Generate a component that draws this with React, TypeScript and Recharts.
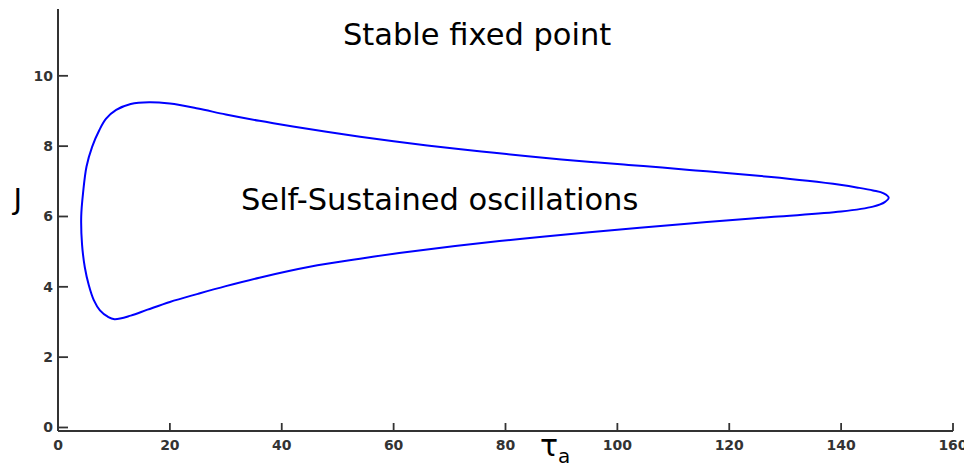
import React from "react";
import { LineChart, Line, XAxis, YAxis } from "recharts";

// Closed boundary of the oscillation region, traced from the right tip,
// leftward along the upper branch, around the left side and back along the lower branch.
const tauValues: number[] = [
  148.5, 147.6, 145.7, 143, 139.8, 134, 127, 120, 114, 108, 102, 96, 90, 84, 78, 72, 66, 60, 54,
  48, 42, 36, 30, 25, 20, 16.3, 13, 10.4, 8.6, 7.4, 6.1, 5.1, 4.5, 4.15, 4.3, 4.8, 5.5, 6.4, 7.5,
  8.9, 10.1, 13, 16, 20, 25, 30, 36, 45, 54, 61, 71, 83, 95, 104, 116, 128, 140, 145.7, 147.8,
  148.5,
];
const jValues: number[] = [
  6.54, 6.66, 6.74, 6.82, 6.9, 7.015, 7.13, 7.23, 7.31, 7.39, 7.465, 7.54, 7.62, 7.71, 7.81, 7.91,
  8.02, 8.14, 8.27, 8.41, 8.56, 8.72, 8.9, 9.07, 9.21, 9.25, 9.2, 9.03, 8.78, 8.46, 7.98, 7.42,
  6.7, 6.0, 5.2, 4.55, 4.05, 3.62, 3.33, 3.15, 3.08, 3.18, 3.35, 3.57, 3.8, 4.02, 4.26, 4.57, 4.8,
  4.96, 5.16, 5.37, 5.55, 5.68, 5.84, 5.99, 6.14, 6.28, 6.41, 6.54,
];

const xTicks: number[] = [0, 20, 40, 60, 80, 100, 120, 140, 160];
const yTicks: number[] = [0, 2, 4, 6, 8, 10];

const boundary = tauValues.map((tau, i) => ({ tau, j: jValues[i] }));

const AXIS_COLOR = "#333333";
const FONT = "'DejaVu Sans', sans-serif";

// Centripetal Catmull-Rom curve factory; a path whose last point equals its first is closed smoothly.
const centripetalLoop = (context: any) => {
  let pts: [number, number][] = [];
  const alpha = 0.5;
  const dist = (a: [number, number], b: [number, number]) =>
    Math.pow(Math.hypot(b[0] - a[0], b[1] - a[1]), alpha);
  return {
    areaStart() {},
    areaEnd() {},
    lineStart() {
      pts = [];
    },
    point(x: number, y: number) {
      pts.push([+x, +y]);
    },
    lineEnd() {
      const n = pts.length;
      if (!n) return;
      context.moveTo(pts[0][0], pts[0][1]);
      const closed =
        n > 3 && Math.abs(pts[0][0] - pts[n - 1][0]) < 1e-6 && Math.abs(pts[0][1] - pts[n - 1][1]) < 1e-6;
      for (let i = 0; i < n - 1; i++) {
        const p1 = pts[i];
        const p2 = pts[i + 1];
        const p0 = i > 0 ? pts[i - 1] : closed ? pts[n - 2] : p1;
        const p3 = i + 2 < n ? pts[i + 2] : closed ? pts[1] : p2;
        const l01 = dist(p0, p1);
        const l12 = dist(p1, p2);
        const l23 = dist(p2, p3);
        let c1: [number, number] = [p1[0], p1[1]];
        let c2: [number, number] = [p2[0], p2[1]];
        if (l01 > 1e-9) {
          const a = 2 * l01 * l01 + 3 * l01 * l12 + l12 * l12;
          const m = 3 * l01 * (l01 + l12);
          c1 = [
            (p1[0] * a - p0[0] * l12 * l12 + p2[0] * l01 * l01) / m,
            (p1[1] * a - p0[1] * l12 * l12 + p2[1] * l01 * l01) / m,
          ];
        }
        if (l23 > 1e-9) {
          const b = 2 * l23 * l23 + 3 * l23 * l12 + l12 * l12;
          const m = 3 * l23 * (l23 + l12);
          c2 = [
            (p2[0] * b + p1[0] * l23 * l23 - p3[0] * l12 * l12) / m,
            (p2[1] * b + p1[1] * l23 * l23 - p3[1] * l12 * l12) / m,
          ];
        }
        context.bezierCurveTo(c1[0], c1[1], c2[0], c2[1], p2[0], p2[1]);
      }
    },
  };
};

const YTick = (props: any) => {
  const { x, y, payload } = props;
  return (
    <g>
      <line x1={x + 5} x2={x + 15} y1={y} y2={y} stroke={AXIS_COLOR} strokeWidth={1.8} />
      <text
        x={x}
        y={y + 5}
        textAnchor="end"
        fontFamily={FONT}
        fontWeight="bold"
        fontSize={14}
        fill={AXIS_COLOR}
      >
        {payload.value}
      </text>
    </g>
  );
};

const XTick = (props: any) => {
  const { x, y, payload } = props;
  return (
    <g>
      <line x1={x} x2={x} y1={y} y2={y - 8} stroke={AXIS_COLOR} strokeWidth={1.8} />
      <text
        x={x}
        y={y + 18.5}
        textAnchor="middle"
        fontFamily={FONT}
        fontWeight="bold"
        fontSize={14}
        fill={AXIS_COLOR}
      >
        {payload.value}
      </text>
    </g>
  );
};

export default function App() {
  return (
    <div style={{ position: "absolute", left: 0, top: 0, width: 964, height: 467, background: "#fff" }}>
      <LineChart
        width={964}
        height={467}
        margin={{ top: 9, right: 11, bottom: 35, left: 57 }}
      >
        <XAxis
          type="number"
          dataKey="tau"
          domain={[0, 160]}
          ticks={xTicks}
          height={1}
          tickSize={0}
          tickMargin={0}
          tickLine={false}
          axisLine={{ stroke: AXIS_COLOR, strokeWidth: 2 }}
          tick={<XTick />}
          interval={0}
          allowDataOverflow
        />
        <YAxis
          type="number"
          dataKey="j"
          domain={[-0.1, 11.9]}
          ticks={yTicks}
          width={1}
          tickSize={0}
          tickMargin={5}
          tickLine={false}
          axisLine={{ stroke: AXIS_COLOR, strokeWidth: 2 }}
          tick={<YTick />}
          interval={0}
          allowDataOverflow
        />
        <Line
          data={boundary}
          dataKey="j"
          type={centripetalLoop as any}
          stroke="#0000ff"
          strokeWidth={2}
          dot={false}
          activeDot={false}
          isAnimationActive={false}
        />
        <text x={343} y={45} fontFamily={FONT} fontSize={30.5} fill="#000">
          Stable fixed point
        </text>
        <text x={241} y={210} fontFamily={FONT} fontSize={30.5} fill="#000">
          Self-Sustained oscillations
        </text>
        <text x={13.5} y={209} fontFamily={FONT} fontSize={29} fill="#000">
          J
        </text>
        <text x={540} y={456} fontFamily={FONT} fontSize={30} fill="#000">
          τ
          <tspan dy={7} fontSize={20}>
            a
          </tspan>
        </text>
      </LineChart>
    </div>
  );
}
